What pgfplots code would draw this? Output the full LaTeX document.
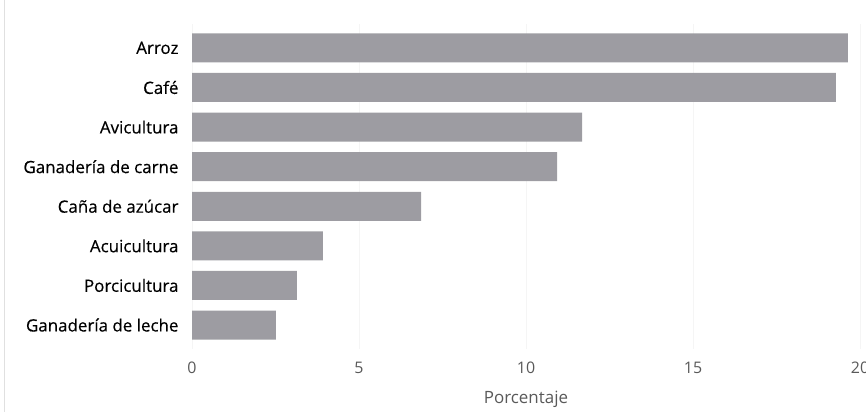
\documentclass[border=0pt]{standalone}
\usepackage{fontspec}
\setmainfont{Open Sans}
\newfontfamily\labfont{Open Sans}[FakeBold=0.4]
\usepackage{pgfplots}
\pgfplotsset{compat=1.18}
\definecolor{barc}{RGB}{157,156,162}
\begin{document}
\begin{tikzpicture}
\begin{axis}[
 at={(192bp,-348.8bp)}, anchor=south west,
 scale only axis, width=668bp, height=324.7bp,
 xbar, bar width=29bp, bar shift=0pt,
 xmin=0, xmax=20, ymin=-0.6, ymax=7.6, y dir=reverse,
 ytick={0,...,7},
 yticklabels={Arroz,Café,Avicultura,Ganadería de carne,Caña de azúcar,Acuicultura,Porcicultura,Ganadería de leche},
 xtick={0,5,10,15,20},
 axis line style={draw=none}, major tick length=0pt,
 xmajorgrids, grid style={color=black!4},
 xticklabel style={font=\fontsize{16}{19}\selectfont, text=black!65, yshift=-10bp},
 yticklabel style={font=\labfont\fontsize{17}{20}\selectfont, text=black, xshift=-10bp},
 xlabel={Porcentaje},
 xlabel style={font=\fontsize{17}{20}\selectfont, text=black!65, yshift=-10bp},
 /pgf/number format/assume math mode=true,
]
\addplot[fill=barc, draw=none] coordinates {
 (19.64,0) (19.28,1) (11.68,2) (10.93,3) (6.86,4) (3.92,5) (3.14,6) (2.51,7)};
\end{axis}
\draw[black!12] (4bp,0) -- (4bp,-412bp);
\pgfresetboundingbox
\path (0,0) rectangle (866bp,-412bp);
\end{tikzpicture}
\end{document}
